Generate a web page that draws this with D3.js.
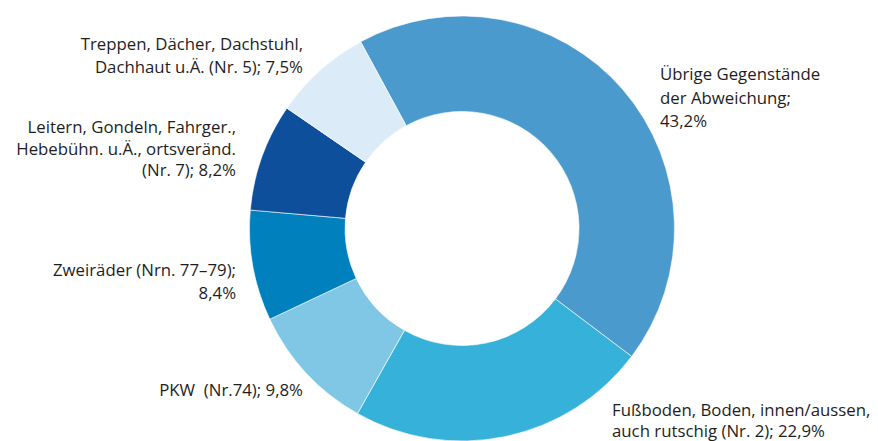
<!DOCTYPE html>
<html><head><meta charset="utf-8">
<script src="https://cdn.jsdelivr.net/npm/d3@7"></script>
<style>body{margin:0;background:#fff}svg{display:block}text{font-family:"Open Sans",sans-serif;font-size:16.8px;fill:#1e1e1e;white-space:pre}</style>
</head><body><svg id="c" width="878" height="441"></svg>
<script>
const categories = ["Übrige Gegenstände der Abweichung","Fußboden, Boden, innen/aussen, auch rutschig (Nr. 2)","PKW (Nr.74)","Zweiräder (Nrn. 77–79)","Leitern, Gondeln, Fahrger., Hebebühn. u.Ä., ortsveränd. (Nr. 7)","Treppen, Dächer, Dachstuhl, Dachhaut u.Ä. (Nr. 5)"];
const values = [43.2, 22.9, 9.8, 8.4, 8.2, 7.5];
const colors = ["#4a9ace","#35b1da","#7fc7e5","#0080bd","#0e4f9c","#dbecf8"];
const labelLines = [
  ["Übrige Gegenstände","der Abweichung;","43,2%"],
  ["Fußboden, Boden, innen/aussen,","auch rutschig (Nr. 2); 22,9%"],
  ["PKW  (Nr.74); 9,8%"],
  ["Zweiräder (Nrn. 77–79);","8,4%"],
  ["Leitern, Gondeln, Fahrger.,","Hebebühn. u.Ä., ortsveränd.","(Nr. 7); 8,2%"],
  ["Treppen, Dächer, Dachstuhl,","Dachhaut u.Ä. (Nr. 5); 7,5%"]
];
// label layout: x, first baseline y, anchor, line height
const labelPos = [
  [660, 80, "start", 23.5],
  [612, 416, "start", 21],
  [303, 396, "end", 22],
  [236, 276, "end", 22.5],
  [236, 133, "end", 21.7],
  [303, 50, "end", 22.5]
];
const svg = d3.select("#c");
const cx = 462, cy = 228.5, rOuter = 212.5, rInner = 117;
const start = -28.5 * Math.PI / 180;
const pie = d3.pie().sort(null).value(d => d).startAngle(start).endAngle(start + 2 * Math.PI);
const arc = d3.arc().innerRadius(rInner).outerRadius(rOuter);
const g = svg.append("g").attr("transform", `translate(${cx},${cy})`);
g.selectAll("path").data(pie(values)).join("path")
  .attr("d", arc).attr("fill", (d, i) => colors[i])
  .attr("stroke", "#fff").attr("stroke-width", 0.6);
labelLines.forEach((lines, i) => {
  const [x, y, anchor, lh] = labelPos[i];
  const t = svg.append("text").attr("text-anchor", anchor);
  lines.forEach((l, j) => t.append("tspan").attr("x", x).attr("y", y + j * lh).text(l));
});
</script></body></html>
